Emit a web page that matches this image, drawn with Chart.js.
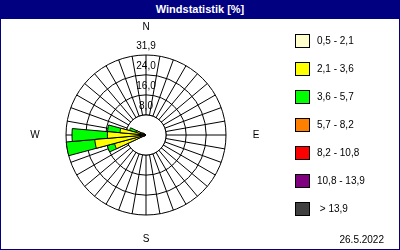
<!DOCTYPE html>
<html>
<head>
<meta charset="utf-8">
<script src="https://cdn.jsdelivr.net/npm/chart.js@4.4.0/dist/chart.umd.min.js"></script>
<style>
  html, body { margin: 0; padding: 0; background: #fff; }
  #wrap { position: relative; width: 400px; height: 250px; overflow: hidden; font-family: "Liberation Sans", Arial, sans-serif; }
  #chart { position: absolute; left: 0; top: 0; }
  #title { position: absolute; left: 0; top: 0; width: 400px; height: 19px; background: #000080; color: #fff;
           font-weight: bold; font-size: 11px; line-height: 19px; text-align: center; }
  #frame { position: absolute; left: 0; top: 0; width: 398px; height: 248px; border: 1px solid #000080; pointer-events: none; }
  #legend { position: absolute; left: 295px; top: 34px; }
  .item { position: absolute; left: 0; width: 100px; height: 14px; }
  .box { position: absolute; left: 0; top: 0; width: 13px; height: 12px; border: 1px solid #000; }
  .lbl { position: absolute; left: 22px; top: 0; font-size: 10px; line-height: 14px; color: #000; white-space: pre; }
  #date { position: absolute; right: 16px; top: 234px; font-size: 10px; color: #000; }
</style>
</head>
<body>
<div id="wrap">
  <canvas id="chart" width="400" height="250"></canvas>
  <div id="title">Windstatistik [%]</div>
  <div id="legend"></div>
  <div id="date">26.5.2022</div>
  <div id="frame"></div>
</div>
<script>
// Richtungen in 10-Grad-Sektoren, Index 0 = Nord
const directions = [0, 10, 20, 30, 40, 50, 60, 70, 80, 90, 100, 110, 120, 130, 140, 150, 160, 170,
                    180, 190, 200, 210, 220, 230, 240, 250, 260, 270, 280, 290, 300, 310, 320, 330, 340, 350];

// Häufigkeit [%] je Geschwindigkeitsklasse und Sektor
const class1 = [0,0,0,0,0,0,0,0,0,0,0,0,0,0,0,0,0,0, 0,0,0,0,0,0, 0, 0.8, 1.0, 1.0, 0.8, 0.6, 0.4, 0,0,0,0,0];
const class2 = [0,0,0,0,0,0,0,0,0,0,0,0,0,0,0,0,0,0, 0,0,0,0,0,0, 0.8, 12.2, 19.5, 14.4, 9.6, 3.4, 1.2, 0,0,0,0,0];
const class3 = [0,0,0,0,0,0,0,0,0,0,0,0,0,0,0,0,0,0, 0,0,0,0,0,0, 0, 3.0, 11.4, 14.1, 5.0, 2.8, 0, 0,0,0,0,0];
const class4 = [0,0,0,0,0,0,0,0,0,0,0,0,0,0,0,0,0,0, 0,0,0,0,0,0, 0,0,0,0,0,0, 0,0,0,0,0,0];
const class5 = [0,0,0,0,0,0,0,0,0,0,0,0,0,0,0,0,0,0, 0,0,0,0,0,0, 0,0,0,0,0,0, 0,0,0,0,0,0];
const class6 = [0,0,0,0,0,0,0,0,0,0,0,0,0,0,0,0,0,0, 0,0,0,0,0,0, 0,0,0,0,0,0, 0,0,0,0,0,0];
const class7 = [0,0,0,0,0,0,0,0,0,0,0,0,0,0,0,0,0,0, 0,0,0,0,0,0, 0,0,0,0,0,0, 0,0,0,0,0,0];

const classLabels = ["0,5 - 2,1", "2,1 - 3,6", "3,6 - 5,7", "5,7 - 8,2", "8,2 - 10,8", "10,8 - 13,9", " > 13,9"];
const classColors = ["#ffffcc", "#ffff00", "#00ff00", "#ff8000", "#ff0000", "#800080", "#404040"];
const tickValues = [8.0, 16.0, 24.0, 31.9];
const compassLabels = ["N", "E", "S", "W"];

const classes = [class1, class2, class3, class4, class5, class6, class7];

// Legende
const legend = document.getElementById("legend");
classLabels.forEach((text, i) => {
  const item = document.createElement("div");
  item.className = "item";
  item.style.top = (i * 28) + "px";
  item.innerHTML = `<div class="box" style="background:${classColors[i]}"></div><div class="lbl">${text}</div>`;
  legend.appendChild(item);
});

// gestapelt: jede Klasse bekommt die Summe bis zu sich selbst, Datensatz 0 liegt oben
const datasets = classes.map((values, k) => ({
  label: classLabels[k],
  data: values.map((v, i) => v > 0 ? classes.slice(0, k + 1).reduce((s, c) => s + c[i], 0) : 0),
  backgroundColor: classColors[k],
  borderColor: "#000",
  borderWidth: ctx => (ctx.raw > 0 ? 1 : 0)
}));

const fmt = v => v.toFixed(1).replace(".", ",");

const roseDecor = {
  id: "roseDecor",
  beforeDatasetsDraw(chart) {
    const s = chart.scales.r;
    const ctx = chart.ctx;
    const rIn = s.getDistanceFromCenterForValue(tickValues[0]);
    ctx.save();
    ctx.beginPath();
    ctx.arc(s.xCenter, s.yCenter, rIn, 0, Math.PI * 2);
    ctx.fillStyle = "#fff";
    ctx.fill();
    ctx.strokeStyle = "#000";
    ctx.lineWidth = 1;
    ctx.stroke();
    ctx.restore();
  },
  afterDatasetsDraw(chart) {
    const s = chart.scales.r;
    const g = chart.scales.spokes;
    const ctx = chart.ctx;
    ctx.save();
    ctx.fillStyle = "#000";
    ctx.font = "10px 'Liberation Sans', Arial, sans-serif";
    ctx.textAlign = "center";
    ctx.textBaseline = "middle";
    tickValues.forEach(v => {
      ctx.fillText(fmt(v), s.xCenter, s.yCenter - s.getDistanceFromCenterForValue(v) - 9);
    });
    const dist = [108, 110, 104, 111];
    compassLabels.forEach((t, i) => {
      const p = g.getPointPosition(i * 9, dist[i]);
      ctx.fillText(t, p.x, p.y);
    });
    ctx.restore();
  }
};

new Chart(document.getElementById("chart"), {
  type: "polarArea",
  data: {
    labels: directions.map(String),
    datasets: datasets
  },
  options: {
    responsive: false,
    animation: false,
    layout: { padding: { left: 66, right: 174, top: 55, bottom: 35 } },
    plugins: { legend: { display: false }, tooltip: { enabled: false } },
    scales: {
      r: {
        min: 0,
        max: 31.9,
        startAngle: -5,
        afterBuildTicks: s => { s.ticks = [0].concat(tickValues).map(v => ({ value: v })); },
        grid: { circular: true, color: "#000", lineWidth: 1 },
        angleLines: { display: false },
        ticks: { display: false },
        pointLabels: { display: false }
      },
      spokes: {
        type: "radialLinear",
        axis: "r",
        min: 0,
        max: 31.9,
        startAngle: 0,
        grid: { display: false },
        angleLines: { display: true, color: "#000", lineWidth: 1 },
        ticks: { display: false },
        pointLabels: { display: false }
      }
    }
  },
  plugins: [roseDecor]
});
</script>
</body>
</html>
